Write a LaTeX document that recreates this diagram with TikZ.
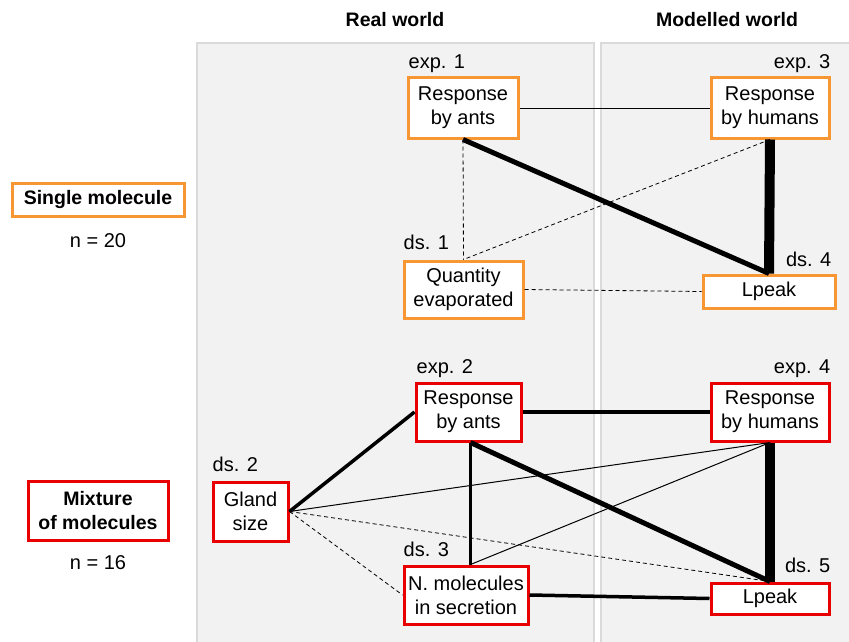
\documentclass[tikz,border=0pt]{standalone}
\usepackage{fontspec}
\setmainfont{Liberation Sans}
\usetikzlibrary{positioning}
\definecolor{orng}{RGB}{247,150,51}
\definecolor{rd}{RGB}{232,0,0}
\definecolor{panel}{RGB}{242,242,242}
\definecolor{panelline}{RGB}{218,218,218}

\begin{document}
\begin{tikzpicture}[x=1pt,y=-1pt,
      box/.style={draw,line width=3pt,fill=white,align=center,inner sep=0pt,
        font=\fontsize{20}{24}\selectfont},
      obox/.style={box,draw=orng},
      rbox/.style={box,draw=rd},
      lbl/.style={inner sep=0pt,font=\fontsize{20}{24}\selectfont},
      hdr/.style={inner sep=0pt,font=\fontsize{19.5}{24}\selectfont\bfseries},
      weak/.style={line width=1pt},
      mid/.style={line width=3.5pt},
      strong/.style={line width=5pt},
      vstrong/.style={line width=10pt},
      neg/.style={line width=0.8pt,dash pattern=on 4pt off 3pt}]
    \useasboundingbox (0,0) rectangle (849,642);
    % panels
    \filldraw[fill=panel,draw=panelline,line width=2pt] (197,43) rectangle (594,650);
    \filldraw[fill=panel,draw=panelline,line width=2pt] (601,43) rectangle (855,650);
    \node[hdr] (real) at (395,20) {Real world};
    \node[hdr] (model) at (727,20) {Modelled world};

    % single molecule
    \node[obox,font=\fontsize{19.5}{24}\selectfont\bfseries,minimum width=172,minimum height=33] (single) at (98,199.5) {Single molecule};
    \node[lbl] (n1) at (98,241) {n = 20};
    \node[obox,minimum width=110,minimum height=60] (ant1) at (463,108) {Response\\by ants};
    \node[obox,minimum width=118,minimum height=60] (hum1) at (770,108) {Response\\by humans};
    \node[obox,minimum width=119,minimum height=57] (qty) at (463.5,289.5) {Quantity\\evaporated};
    \node[obox,minimum width=132,minimum height=33] (lpk1) at (769,291.5) {Lpeak};
    \node[lbl,anchor=base west] (e1) at ([shift={(2,-8)}]ant1.north west) {exp. 1};
    \node[lbl,anchor=base east] (e3) at ([shift={(0,-8)}]hum1.north east) {exp. 3};
    \node[lbl,anchor=base west] (d1) at ([shift={(1,-10)}]qty.north west) {ds. 1};
    \node[lbl,anchor=base east] (d4) at ([shift={(-5,-7)}]lpk1.north east) {ds. 4};

    \draw[weak] (ant1.east) -- (hum1.west);
    \draw[strong] (ant1.south) -- (lpk1.north);
    \draw[vstrong] (hum1.south) -- (lpk1.north);
    \draw[neg] (ant1.south) -- (qty.north);
    \draw[neg] (hum1.south) -- (qty.north);
    \draw[neg] (qty.east) -- (lpk1.west);

    % mixture
    \node[rbox,font=\fontsize{19.5}{24}\selectfont\bfseries,minimum width=140,minimum height=59] (mix) at (98,510.5) {Mixture\\of molecules};
    \node[lbl] (n2) at (98,563) {n = 16};
    \node[rbox,minimum width=105,minimum height=58] (ant2) at (468.5,412) {Response\\by ants};
    \node[rbox,minimum width=118,minimum height=58] (hum2) at (770,412) {Response\\by humans};
    \node[rbox,minimum width=75,minimum height=59] (gland) at (250.5,511.5) {Gland\\size};
    \node[rbox,minimum width=124,minimum height=58] (nmol) at (466,595) {N. molecules\\in secretion};
    \node[rbox,minimum width=118,minimum height=31] (lpk2) at (770,598.5) {Lpeak};
    \node[lbl,anchor=base west] (e2) at ([shift={(2,-8)}]ant2.north west) {exp. 2};
    \node[lbl,anchor=base east] (e4) at ([shift={(0,-8)}]hum2.north east) {exp. 4};
    \node[lbl,anchor=base west] (d2) at ([shift={(1,-9)}]gland.north west) {ds. 2};
    \node[lbl,anchor=base west] (d3) at ([shift={(1,-8)}]nmol.north west) {ds. 3};
    \node[lbl,anchor=base east] (d5) at ([shift={(0,-9)}]lpk2.north east) {ds. 5};
    \coordinate (ntop) at ([xshift=2pt]ant2.south |- nmol.north);

    \draw[mid] (gland.east) -- (ant2.west);
    \draw[mid] (ant2.east) -- (hum2.west);
    \draw[line width=3pt] ([xshift=2pt]ant2.south) -- (ntop);
    \draw[strong] ([xshift=2pt]ant2.south) -- (lpk2.north);
    \draw[vstrong] (hum2.south) -- (lpk2.north);
    \draw[weak] (gland.east) -- (hum2.south);
    \draw[weak] (ntop) -- (hum2.south);
    \draw[neg] (gland.east) -- (lpk2.north);
    \draw[neg] (gland.east) -- (nmol.west);
    \draw[mid] (nmol.east) -- (lpk2.west);
  \end{tikzpicture}
\end{document}
